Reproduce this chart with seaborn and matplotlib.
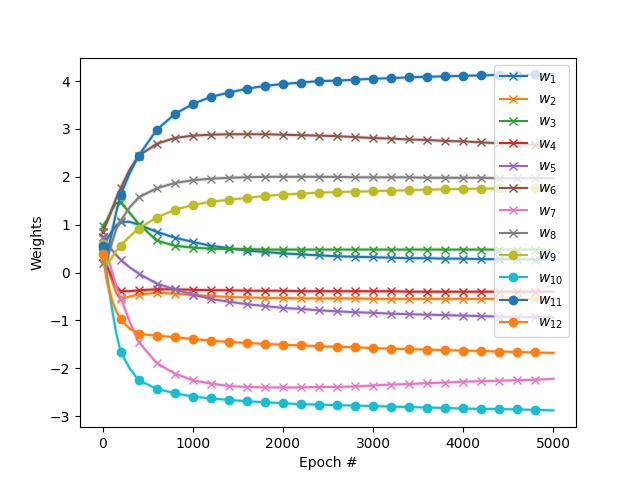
import numpy as np
import matplotlib
matplotlib.use("Agg")
import matplotlib.pyplot as plt
import seaborn as sns

epochs = [0, 50, 100, 150, 200, 300, 400, 600, 800, 1000, 1200, 1400, 1600, 1800,
          2000, 2200, 2400, 2600, 2800, 3000, 3200, 3400, 3600, 3800, 4000, 4200,
          4400, 4600, 4800, 5000]

w1 = [0.75, 0.7, 0.85, 0.98, 1.06, 1.06, 1.0, 0.85, 0.73, 0.64, 0.56, 0.51, 0.46, 0.43,
      0.40, 0.38, 0.36, 0.34, 0.33, 0.32, 0.31, 0.30, 0.30, 0.29, 0.29, 0.28, 0.28, 0.28, 0.27, 0.27]
w2 = [0.35, 0.15, -0.15, -0.42, -0.56, -0.5, -0.46, -0.42, -0.44, -0.47, -0.49, -0.51, -0.52, -0.53,
      -0.53, -0.54, -0.54, -0.54, -0.54, -0.55, -0.55, -0.55, -0.55, -0.55, -0.55, -0.55, -0.55, -0.55, -0.55, -0.55]
w3 = [0.97, 1.1, 1.3, 1.45, 1.47, 1.25, 1.02, 0.67, 0.56, 0.52, 0.5, 0.49, 0.49, 0.48,
      0.48, 0.48, 0.48, 0.48, 0.48, 0.48, 0.48, 0.48, 0.48, 0.48, 0.48, 0.48, 0.48, 0.48, 0.48, 0.48]
w4 = [0.21, 0.12, -0.07, -0.28, -0.39, -0.39, -0.37, -0.35, -0.35, -0.36, -0.37, -0.37, -0.38, -0.38,
      -0.38, -0.39, -0.39, -0.39, -0.39, -0.39, -0.39, -0.40, -0.40, -0.40, -0.40, -0.40, -0.40, -0.40, -0.40, -0.40]
w5 = [0.75, 0.6, 0.48, 0.37, 0.27, 0.11, -0.02, -0.23, -0.35, -0.46, -0.55, -0.61, -0.66, -0.70,
      -0.74, -0.76, -0.79, -0.81, -0.83, -0.84, -0.86, -0.87, -0.88, -0.89, -0.90, -0.91, -0.92, -0.93, -0.93, -0.94]
w6 = [0.85, 1.05, 1.3, 1.55, 1.76, 2.15, 2.44, 2.69, 2.81, 2.86, 2.88, 2.89, 2.89, 2.89,
      2.88, 2.87, 2.86, 2.85, 2.83, 2.81, 2.80, 2.78, 2.77, 2.75, 2.74, 2.72, 2.70, 2.69, 2.67, 2.66]
w7 = [0.6, 0.38, 0.05, -0.28, -0.52, -1.02, -1.45, -1.89, -2.11, -2.25, -2.32, -2.37, -2.39, -2.40,
      -2.40, -2.40, -2.39, -2.39, -2.38, -2.36, -2.34, -2.33, -2.31, -2.30, -2.28, -2.27, -2.26, -2.25, -2.24, -2.22]
w8 = [0.2, 0.25, 0.6, 0.9, 1.08, 1.36, 1.57, 1.76, 1.87, 1.93, 1.96, 1.98, 1.99, 2.0,
      2.0, 2.0, 2.0, 2.0, 1.99, 1.99, 1.99, 1.99, 1.98, 1.98, 1.98, 1.98, 1.97, 1.97, 1.97, 1.97]
w9 = [0.6, 0.18, 0.3, 0.45, 0.56, 0.75, 0.92, 1.15, 1.31, 1.41, 1.48, 1.52, 1.56, 1.60,
      1.63, 1.65, 1.67, 1.68, 1.69, 1.70, 1.71, 1.72, 1.73, 1.74, 1.75, 1.75, 1.76, 1.76, 1.77, 1.77]
w10 = [0.5, -0.05, -0.7, -1.25, -1.65, -2.0, -2.25, -2.43, -2.52, -2.59, -2.63, -2.66, -2.69, -2.71,
       -2.73, -2.75, -2.76, -2.77, -2.78, -2.79, -2.80, -2.81, -2.82, -2.83, -2.84, -2.85, -2.85, -2.86, -2.87, -2.88]
w11 = [0.55, 0.4, 0.8, 1.25, 1.62, 2.07, 2.44, 2.98, 3.31, 3.52, 3.67, 3.76, 3.84, 3.90,
       3.94, 3.97, 4.0, 4.01, 4.03, 4.05, 4.06, 4.08, 4.09, 4.10, 4.11, 4.12, 4.13, 4.13, 4.14, 4.14]
w12 = [0.38, -0.2, -0.55, -0.8, -0.98, -1.17, -1.28, -1.32, -1.35, -1.39, -1.42, -1.45, -1.47, -1.49,
       -1.51, -1.52, -1.54, -1.55, -1.56, -1.58, -1.59, -1.60, -1.61, -1.62, -1.63, -1.64, -1.65, -1.66, -1.67, -1.68]

weights = [w1, w2, w3, w4, w5, w6, w7, w8, w9, w10, w11, w12]
labels = [f"$w_{{{i + 1}}}$" for i in range(len(weights))]
markers = ["x"] * 8 + ["o"] * 4

palette = sns.color_palette("tab10")
# markers every 200 epochs, last one before 5000
mark_idx = [i for i, e in enumerate(epochs) if e % 200 == 0 and e < 5000]

fig, ax = plt.subplots(figsize=(6.4, 4.8), dpi=100)
for i, (w, lab, m) in enumerate(zip(weights, labels, markers)):
    c = palette[i % 10]
    # faint halo under each curve, like in the original
    sns.lineplot(x=epochs, y=w, ax=ax, color=c, linewidth=3, alpha=0.2)
    sns.lineplot(x=epochs, y=w, ax=ax, color=c, marker=m, markevery=mark_idx,
                 markersize=6, markeredgecolor=c, markeredgewidth=1.0,
                 linewidth=1.5, label=lab)

ax.set_xlabel("Epoch #")
ax.set_ylabel("Weights")
ax.legend(loc="upper right")
plt.savefig("out.png", dpi=100)
